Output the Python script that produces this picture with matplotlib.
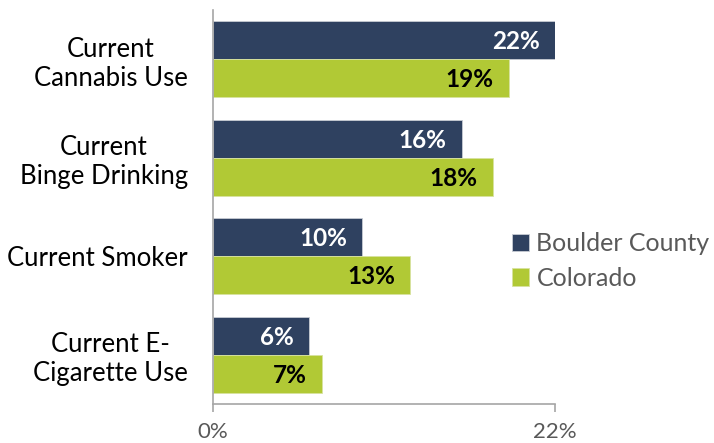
import numpy as np
from matplotlib import pyplot as plt

categories = ["Current\nCannabis Use", "Current\nBinge Drinking", "Current Smoker", "Current E-\nCigarette Use"]
boulder = [22.0, 16.0, 9.6, 6.15]
colorado = [19.05, 18.0, 12.7, 7.0]
boulder_labels = ["22%", "16%", "10%", "6%"]
colorado_labels = ["19%", "18%", "13%", "7%"]

navy = "#2F4160"
green = "#B1C935"
gray = "#595959"

plt.rcParams["font.family"] = ["Lato", "DejaVu Sans"]

fig = plt.figure(figsize=(7.14, 4.43), dpi=100)
ax = fig.add_axes([213 / 714, 1 - 404 / 443, 342 / 714, 394 / 443])

y = np.arange(len(categories))
h = 0.385
bars_b = ax.barh(y - h / 2, boulder, height=h, color=navy, edgecolor="#C8CCD4", linewidth=0.6, label="Boulder County")
bars_c = ax.barh(y + h / 2, colorado, height=h, color=green, edgecolor="#D8E2A0", linewidth=0.6, label="Colorado")

for bar, txt in zip(bars_b, boulder_labels):
    ax.annotate(txt, (bar.get_width(), bar.get_y() + bar.get_height() / 2),
                xytext=(-11, -1), textcoords="offset points", ha="right", va="center",
                color="white", fontsize=17.5, fontweight="bold")
for bar, txt in zip(bars_c, colorado_labels):
    ax.annotate(txt, (bar.get_width(), bar.get_y() + bar.get_height() / 2),
                xytext=(-11, -1), textcoords="offset points", ha="right", va="center",
                color="black", fontsize=17.5, fontweight="bold")

ax.set_xlim(0, 22)
ax.set_ylim(len(categories) - 0.5, -0.5)
ax.set_xticks([0, 22])
ax.set_xticklabels(["0%", "22%"], color=gray, fontsize=16)
ax.set_yticks(y)
ax.set_yticklabels(categories, fontsize=18.5, color="black", multialignment="center")
ax.tick_params(axis="y", length=0, pad=18)
ax.tick_params(axis="x", length=6, width=1.2, color="#A6A6A6", pad=7)

for side in ["top", "right"]:
    ax.spines[side].set_visible(False)
for side in ["left", "bottom"]:
    ax.spines[side].set_color("#A6A6A6")
    ax.spines[side].set_linewidth(1.2)

leg = fig.legend(loc="center left", bbox_to_anchor=(489 / 714, 1 - 261 / 443), frameon=False,
                 fontsize=18, handlelength=0.7, handleheight=0.7, handletextpad=0.3, labelspacing=0.45)
for t in leg.get_texts():
    t.set_color(gray)

fig.savefig("out.png", dpi=100)
